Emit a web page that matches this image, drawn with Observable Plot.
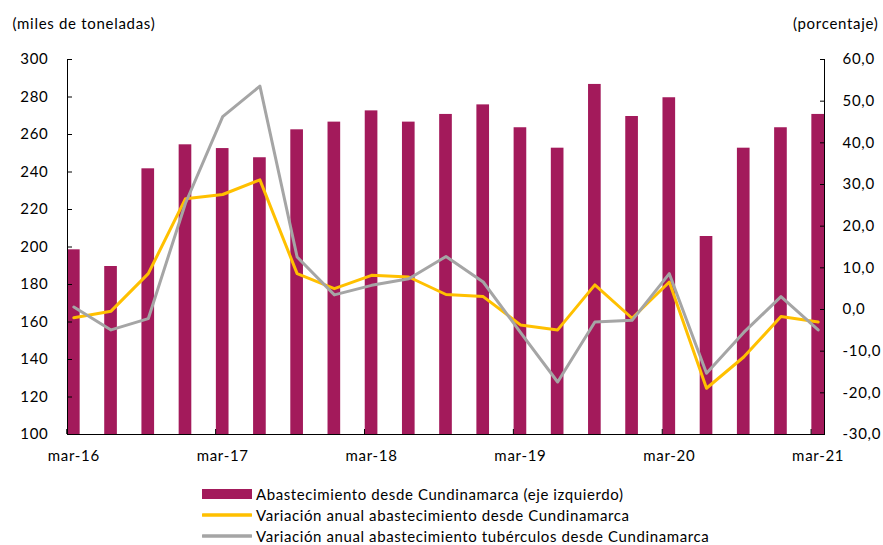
<!DOCTYPE html>
<html>
<head>
<meta charset="utf-8">
<script src="https://cdn.jsdelivr.net/npm/d3@7"></script>
<script src="https://cdn.jsdelivr.net/npm/@observablehq/plot@0.6"></script>
<style>
  body { margin: 0; background: #fff; }
  #wrap { position: relative; width: 883px; height: 545px; font-family: Lato, "Liberation Sans", sans-serif; color: #000; }
  #wrap svg text { letter-spacing: 0.7px; }
  .leg { position: absolute; left: 202px; height: 20px; display: flex; align-items: center; font-size: 15px; letter-spacing: 0.6px; white-space: nowrap; }
  .leg svg { margin-right: 4px; }
</style>
</head>
<body>
<div id="wrap"></div>
<script>
const periods = ["mar-16","jun-16","sep-16","dic-16","mar-17","jun-17","sep-17","dic-17","mar-18","jun-18","sep-18","dic-18","mar-19","jun-19","sep-19","dic-19","mar-20","jun-20","sep-20","dic-20","mar-21"];
const tickLabels = ["mar-16","mar-17","mar-18","mar-19","mar-20","mar-21"];
const abastecimiento = [198.5,189.6,241.7,254.5,252.5,247.6,262.5,266.6,272.6,266.6,270.7,275.8,263.6,252.7,286.7,269.6,279.6,205.6,252.7,263.6,270.7];
const varAnual = [-2.0,-0.4,8.6,26.6,27.6,31.1,8.6,5.0,8.2,7.8,3.6,3.1,-3.7,-4.9,5.9,-2.1,6.6,-18.9,-11.4,-1.7,-3.0];
const varTuberculos = [0.6,-4.9,-2.2,25.5,46.3,53.6,12.6,3.5,5.8,7.4,12.7,6.6,-5.5,-17.4,-3.0,-2.6,8.6,-15.3,-5.5,3.1,-4.9];
const leftTicks = [100,120,140,160,180,200,220,240,260,280,300];
const rightTicks = [-30,-20,-10,0,10,20,30,40,50,60];
const seriesNames = ["Abastecimiento desde Cundinamarca (eje izquierdo)","Variación anual abastecimiento desde Cundinamarca","Variación anual abastecimiento tubérculos desde Cundinamarca"];
const colors = ["#A31A5B","#FFC000","#A5A5A5"];

const idx = d3.range(periods.length);
const hw = 0.17;
const x0 = -0.17, x1 = periods.length - 1 + 0.17;
const toLeft = p => 100 + (p + 30) * 200 / 90;
const fromLeft = v => (v - 100) * 90 / 200 - 30;
const fmtPct = d => d.toFixed(1).replace(".", ",");
const labelIdx = tickLabels.map(l => periods.indexOf(l));

const chart = Plot.plot({
  width: 883, height: 470,
  marginLeft: 67, marginRight: 59, marginTop: 59, marginBottom: 36,
  style: {fontFamily: "Lato, 'Liberation Sans', sans-serif", fontSize: "15px", color: "#000", background: "white", overflow: "visible"},
  x: {domain: [x0, x1], axis: null},
  y: {domain: [100, 300], axis: null},
  marks: [
    Plot.rectY(idx, {x1: i => i - hw, x2: i => i + hw, y1: 100, y2: i => abastecimiento[i], fill: colors[0]}),
    Plot.lineY(idx, {x: i => i, y: i => toLeft(varAnual[i]), stroke: colors[1], strokeWidth: 3}),
    Plot.lineY(idx, {x: i => i, y: i => toLeft(varTuberculos[i]), stroke: colors[2], strokeWidth: 3}),
    Plot.ruleX([x0, x1], {stroke: "#000", strokeWidth: 1}),
    Plot.ruleY([100], {stroke: "#000", strokeWidth: 1}),
    Plot.axisY(leftTicks, {anchor: "left", tickSize: -5, tickPadding: 24, label: null}),
    Plot.axisY(rightTicks.map(toLeft), {anchor: "right", tickSize: -5, tickPadding: 23, label: null, tickFormat: d => fmtPct(Math.round(fromLeft(d)))}),
    Plot.axisX(labelIdx.map(i => i - 0.19), {anchor: "bottom", tickSize: -5, tickFormat: () => "", label: null}),
    Plot.axisX(labelIdx, {anchor: "bottom", tickSize: 0, tickPadding: 16, label: null, tickFormat: i => periods[i]}),
    Plot.text(["(miles de toneladas)"], {frameAnchor: "top-left", dx: -55, dy: -41, textAnchor: "start", fontSize: 15}),
    Plot.text(["(porcentaje)"], {frameAnchor: "top-right", dx: 54, dy: -41, textAnchor: "end", fontSize: 15})
  ]
});

const wrap = document.getElementById("wrap");
wrap.appendChild(chart);

const rowsY = [494, 515, 536];
seriesNames.forEach((name, k) => {
  const div = document.createElement("div");
  div.className = "leg";
  div.style.top = (rowsY[k] - 10) + "px";
  const sw = k === 0
    ? `<svg width="50" height="20"><rect x="0" y="5" width="50" height="10" fill="${colors[0]}"/></svg>`
    : `<svg width="50" height="20"><line x1="1" x2="49" y1="10" y2="10" stroke="${colors[k]}" stroke-width="3.5" stroke-linecap="round"/></svg>`;
  div.innerHTML = sw + `<span>${name}</span>`;
  wrap.appendChild(div);
});
</script>
</body>
</html>
